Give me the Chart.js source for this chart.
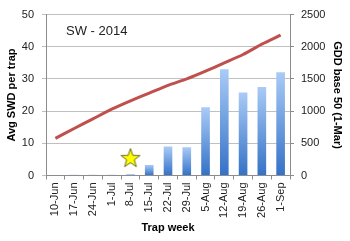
<!DOCTYPE html>
<html>
<head>
<meta charset="utf-8">
<script src="https://cdn.jsdelivr.net/npm/chart.js@4/dist/chart.umd.min.js"></script>
<style>
    html, body { margin: 0; padding: 0; background: #ffffff; }
    #wrap { width: 350px; height: 241px; }
</style>
</head>
<body>
<div id="wrap"><canvas id="chart" width="350" height="241"></canvas></div>
<script>
// Trap weeks (x axis)
const weeks = ['10-Jun', '17-Jun', '24-Jun', '1-Jul', '8-Jul', '15-Jul', '22-Jul',
    '29-Jul', '5-Aug', '12-Aug', '19-Aug', '26-Aug', '1-Sep'];
// Avg SWD per trap (bars, left axis)
const swdPerTrap = [0, 0.2, 0.2, 0.2, 0.4, 3.3, 9.0, 8.8, 21.2, 33.0, 25.8, 27.5, 32.1];
// GDD base 50 since 1-Mar (line, right axis)
const gddBase50 = [578, 730, 880, 1030, 1160, 1280, 1400, 1500, 1620, 1750, 1880, 2040, 2180];
// Star marker (left axis)
const starMarker = [null, null, null, null, 5.4, null, null, null, null, null, null, null, null];
const chartTitle = 'SW - 2014';

// Draw a filled five point star into a small canvas to use as point style
function makeStar() {
    const c = document.createElement('canvas');
    c.width = 22; c.height = 22;
    const g = c.getContext('2d');
    g.beginPath();
    for (let i = 0; i < 10; i++) {
        const r = i % 2 === 0 ? 10 : 4;
        const a = -Math.PI / 2 + i * Math.PI / 5;
        const px = 11 + r * Math.cos(a), py = 11.5 + r * Math.sin(a);
        if (i === 0) g.moveTo(px, py); else g.lineTo(px, py);
    }
    g.closePath();
    g.fillStyle = '#ffff00';
    g.fill();
    g.lineWidth = 1;
    g.strokeStyle = '#6b6b1a';
    g.stroke();
    return c;
}

// Per-bar vertical gradient, light on top, darker at the base
function barGradient(context) {
    const chart = context.chart;
    if (!chart.chartArea || context.parsed === undefined) return '#6a9fe6';
    const y = chart.scales.y;
    const top = y.getPixelForValue(context.parsed.y);
    const base = y.getPixelForValue(0);
    const grad = chart.ctx.createLinearGradient(0, top, 0, base + 0.01);
    grad.addColorStop(0, '#a9cbf7');
    grad.addColorStop(1, '#3471c6');
    return grad;
}

// Title box drawn inside the plot area with white background
const titleBox = {
    id: 'titleBox',
    afterDraw(chart) {
        const c = chart.ctx;
        const x = chart.scales.x.getPixelForValue(2.2);
        const y = chart.scales.y.getPixelForValue(45);
        c.save();
        c.font = '13px "Liberation Sans", Arial, sans-serif';
        const w = c.measureText(chartTitle).width;
        c.fillStyle = '#ffffff';
        c.fillRect(x - w / 2 - 6, y - 9, w + 12, 18);
        c.fillStyle = '#222222';
        c.textAlign = 'center';
        c.textBaseline = 'middle';
        c.fillText(chartTitle, x, y + 1);
        c.restore();
    }
};

const tickFont = { family: '"Liberation Sans", Arial, sans-serif', size: 11 };
const titleFont = { family: '"Liberation Sans", Arial, sans-serif', size: 11, weight: 'bold' };

new Chart(document.getElementById('chart'), {
    type: 'bar',
    data: {
        labels: weeks,
        datasets: [
            {
                type: 'line',
                data: starMarker,
                yAxisID: 'y',
                showLine: false,
                pointStyle: makeStar(),
                pointRadius: 10
            },
            {
                type: 'line',
                data: gddBase50,
                yAxisID: 'y1',
                borderColor: '#c0504d',
                borderWidth: 3,
                pointRadius: 0,
                tension: 0.2,
                fill: false
            },
            {
                type: 'bar',
                data: swdPerTrap,
                yAxisID: 'y',
                backgroundColor: barGradient,
                borderWidth: 0,
                categoryPercentage: 1,
                barPercentage: 0.46
            }
        ]
    },
    options: {
        responsive: false,
        animation: false,
        layout: { padding: { top: 11, right: 2, left: 5, bottom: 6 } },
        plugins: { legend: { display: false }, tooltip: { enabled: false } },
        scales: {
            x: {
                offset: true,
                afterFit: s => { s.height = 59.5; },
                ticks: { font: tickFont, color: '#222222', minRotation: 90, maxRotation: 90, padding: 3, autoSkip: false },
                grid: { display: true, drawOnChartArea: false, offset: true, color: '#8c8c8c', tickLength: 4 },
                border: { color: '#8c8c8c' },
                title: { display: true, text: 'Trap week', font: titleFont, color: '#000000', padding: { top: 4, bottom: 0 } }
            },
            y: {
                position: 'left',
                min: 0, max: 50,
                afterFit: s => { s.width = 41; },
                ticks: { stepSize: 5, font: tickFont, color: '#222222', padding: 8 },
                grid: { color: '#c0c0c0', tickLength: 4 },
                border: { color: '#8c8c8c' },
                title: { display: true, text: 'Avg SWD per trap', font: titleFont, color: '#000000', padding: { top: 0, bottom: 2 } }
            },
            y1: {
                position: 'right',
                min: 0, max: 2500,
                afterFit: s => { s.width = 58; },
                ticks: { stepSize: 500, font: tickFont, color: '#222222', padding: 7, callback: v => String(v) },
                grid: { drawOnChartArea: false, color: '#8c8c8c', tickLength: 4 },
                border: { color: '#8c8c8c' },
                title: { display: true, text: 'GDD base 50 (1-Mar)', font: titleFont, color: '#000000', padding: { top: 4, bottom: 7 } }
            }
        }
    },
    plugins: [titleBox]
});
</script>
</body>
</html>
